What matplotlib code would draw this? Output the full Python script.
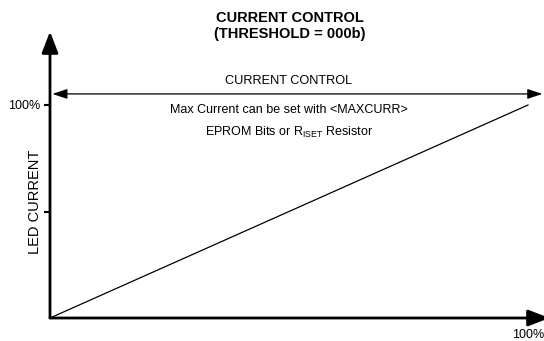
import matplotlib.pyplot as plt

plt.rcParams['font.family'] = ['Liberation Sans', 'DejaVu Sans']

# data: LED current vs control input (fractions of full scale)
x_vals = [0.0, 1.0]
y_vals = [0.0, 1.0]
y_ticks = [0.5, 1.0]
y_tick_labels = ['', '100%']
x_ticks = [1.0]
x_tick_labels = ['100%']

W, H = 544, 341
fig = plt.figure(figsize=(W / 100, H / 100), dpi=100)
# origin at pixel (50, 318), full scale at (528, 105)
ax = fig.add_axes([50 / W, (H - 318) / H, (528 - 50) / W, (318 - 105) / H])
ax.set_xlim(0, 1)
ax.set_ylim(0, 1)
for s in ax.spines.values():
    s.set_visible(False)

ax.plot(x_vals, y_vals, color='black', lw=0.9, clip_on=False)

# axes with arrow heads
ax.annotate('', xy=(0, 1.345), xytext=(0, 0), xycoords='data',
            arrowprops=dict(arrowstyle='-|>,head_length=1.3,head_width=0.5',
                            color='black', lw=2, shrinkA=0, shrinkB=0),
            annotation_clip=False)
ax.annotate('', xy=(1.045, 0), xytext=(0, 0), xycoords='data',
            arrowprops=dict(arrowstyle='-|>,head_length=1.3,head_width=0.5',
                            color='black', lw=2, shrinkA=0, shrinkB=0),
            annotation_clip=False)

# double arrow for current control range
ax.annotate('', xy=(1.03, 1.052), xytext=(0.005, 1.052),
            arrowprops=dict(arrowstyle='<|-|>,head_length=0.9,head_width=0.3',
                            color='black', lw=0.9, shrinkA=0, shrinkB=0),
            annotation_clip=False)
ax.text(0.499, 1.085, 'CURRENT CONTROL', ha='center', va='bottom', fontsize=9.2)
ax.text(0.5, 0.975, 'Max Current can be set with <MAXCURR>', ha='center', va='center', fontsize=9)
ax.text(0.5, 0.87, r'EPROM Bits or R$_{\mathregular{ISET}}$ Resistor', ha='center', va='center', fontsize=9)

ax.set_yticks(y_ticks)
ax.set_yticklabels(y_tick_labels, fontsize=9)
ax.set_xticks(x_ticks)
ax.set_xticklabels(x_tick_labels, fontsize=9)
ax.tick_params(axis='y', direction='out', length=4, width=1.5, pad=3)
ax.tick_params(axis='x', direction='out', length=5, width=0.8, pad=3)

ax.set_ylabel('LED CURRENT', fontsize=10.5)
ax.yaxis.set_label_coords(-0.016, 0.545)

fig.text(290 / W, 1 - 18 / H, 'CURRENT CONTROL', ha='center', va='center',
         fontsize=10.5, fontweight='bold')
fig.text(290 / W, 1 - 34 / H, '(THRESHOLD = 000b)', ha='center', va='center',
         fontsize=10.5, fontweight='bold')

fig.savefig('out.png', dpi=100)
